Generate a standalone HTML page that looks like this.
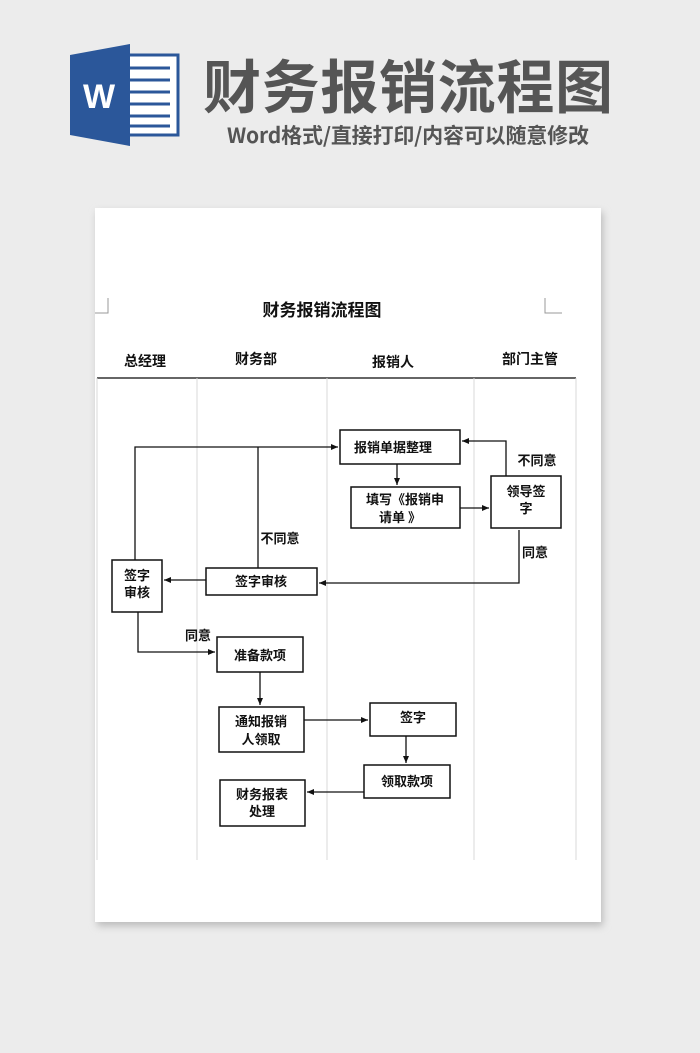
<!DOCTYPE html>
<html><head><meta charset="utf-8"><style>
body{margin:0;width:700px;height:1053px;background:#ececec;overflow:hidden;font-family:"Liberation Sans","Noto Sans CJK SC",sans-serif}
</style></head><body>
<svg width="700" height="1053" xmlns="http://www.w3.org/2000/svg" style="position:absolute;left:0;top:0">
<defs><marker id="a" markerWidth="8" markerHeight="8" refX="7" refY="4" orient="auto" markerUnits="userSpaceOnUse"><path d="M0,1 L7,4 L0,7z" fill="#111"/></marker>
<filter id="s" x="-10%" y="-10%" width="120%" height="120%"><feGaussianBlur stdDeviation="4"/></filter></defs>
<!-- word icon -->
<rect x="112" y="55" width="66" height="80" fill="#fff" stroke="#2b579a" stroke-width="3"/>
<g stroke="#2b579a" stroke-width="3">
<line x1="128" y1="68" x2="170" y2="68"/><line x1="128" y1="80" x2="170" y2="80"/><line x1="128" y1="92" x2="170" y2="92"/><line x1="128" y1="104" x2="170" y2="104"/><line x1="128" y1="116" x2="170" y2="116"/><line x1="128" y1="126" x2="170" y2="126"/></g>
<path d="M70,55 L130,44 L130,146 L70,135z" fill="#2b579a"/>
<text x="99" y="108" font-size="34" font-weight="bold" fill="#fff" text-anchor="middle">W</text>
<text x="408" y="108" font-size="58" font-weight="bold" fill="#555" text-anchor="middle" font-family="Noto Sans CJK SC,sans-serif" textLength="410">财务报销流程图</text>
<text x="408" y="143" font-size="21" font-weight="600" fill="#555" text-anchor="middle" font-family="Noto Sans CJK SC,sans-serif" textLength="362">Word格式/直接打印/内容可以随意修改</text>
<!-- page -->
<rect x="97" y="212" width="506" height="714" fill="#bbb" filter="url(#s)"/>
<rect x="95" y="208" width="506" height="714" fill="#fff"/>
<g stroke="#999" fill="none"><path d="M108,298 V313 H95"/><path d="M545,298 V313 H562"/></g>
<g font-family="Noto Sans CJK SC,sans-serif" font-weight="bold" fill="#111">
<text x="322" y="316" font-size="17" text-anchor="middle">财务报销流程图</text>
<g font-size="14" text-anchor="middle"><text x="145" y="366">总经理</text><text x="256" y="364">财务部</text><text x="393" y="367">报销人</text><text x="530" y="364">部门主管</text></g>
</g>
<line x1="97" y1="378" x2="576" y2="378" stroke="#333" stroke-width="1.5"/>
<g stroke="#d8d8d8"><line x1="197" y1="378" x2="197" y2="860"/><line x1="327" y1="378" x2="327" y2="860"/><line x1="474" y1="378" x2="474" y2="860"/><line x1="576" y1="378" x2="576" y2="860"/><line x1="97" y1="378" x2="97" y2="860"/></g>
<g stroke="#111" stroke-width="1.5" fill="#fff">
<rect x="340" y="430" width="120" height="34"/>
<rect x="351" y="487" width="109" height="41"/>
<rect x="491" y="476" width="70" height="52"/>
<rect x="206" y="568" width="111" height="27"/>
<rect x="112" y="560" width="50" height="52"/>
<rect x="217" y="637" width="86" height="35"/>
<rect x="219" y="707" width="85" height="45"/>
<rect x="370" y="703" width="86" height="33"/>
<rect x="364" y="765" width="86" height="33"/>
<rect x="220" y="780" width="85" height="46"/>
</g>
<g stroke="#111" stroke-width="1.3" fill="none">
<path d="M135,560 V447 H338" marker-end="url(#a)"/>
<path d="M258,568 V447"/>
<path d="M506,476 V441 H462" marker-end="url(#a)"/>
<path d="M397,464 V485" marker-end="url(#a)"/>
<path d="M460,508 H489" marker-end="url(#a)"/>
<path d="M519,530 V583 H319" marker-end="url(#a)"/>
<path d="M206,580 H164" marker-end="url(#a)"/>
<path d="M138,612 V652 H215" marker-end="url(#a)"/>
<path d="M260,672 V705" marker-end="url(#a)"/>
<path d="M304,720 H368" marker-end="url(#a)"/>
<path d="M406,736 V763" marker-end="url(#a)"/>
<path d="M364,792 H307" marker-end="url(#a)"/>
</g>
<g font-family="Noto Sans CJK SC,sans-serif" font-weight="bold" fill="#111" font-size="13" text-anchor="middle">
<text x="393" y="452">报销单据整理</text>
<text x="405" y="504">填写《报销申</text><text x="400" y="522">请单 》</text>
<text x="526" y="496">领导签</text><text x="526" y="513">字</text>
<text x="261" y="586">签字审核</text>
<text x="137" y="580">签字</text><text x="137" y="597">审核</text>
<text x="260" y="660">准备款项</text>
<text x="261" y="726">通知报销</text><text x="261" y="744">人领取</text>
<text x="413" y="722">签字</text>
<text x="407" y="786">领取款项</text>
<text x="262" y="799">财务报表</text><text x="262" y="816">处理</text>
<text x="280" y="543">不同意</text>
<text x="537" y="465">不同意</text>
<text x="535" y="557">同意</text>
<text x="198" y="640">同意</text>
</g>
</svg>
</body></html>
